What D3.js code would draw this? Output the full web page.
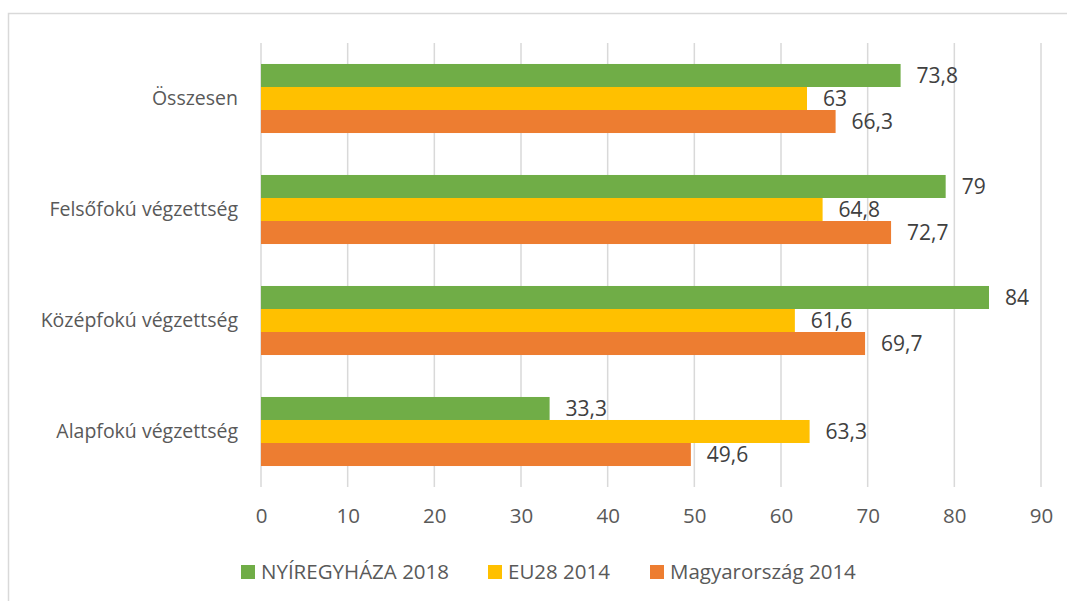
<!DOCTYPE html>
<html><head><meta charset="utf-8">
<script src="https://cdn.jsdelivr.net/npm/d3@7"></script>
<style>body{margin:0;background:#fff}svg{display:block}</style>
</head><body>
<svg id="c" width="1067" height="601"></svg>
<script>
const categories = ["Összesen","Felsőfokú végzettség","Középfokú végzettség","Alapfokú végzettség"];
const seriesNames = ["NYÍREGYHÁZA 2018","EU28 2014","Magyarország 2014"];
const nyiregyhaza = [73.8,79,84,33.3];
const eu28 = [63,64.8,61.6,63.3];
const magyarorszag = [66.3,72.7,69.7,49.6];
const ticks = [0,10,20,30,40,50,60,70,80,90];
const colors = ["#70ad47","#ffc000","#ed7d31"];
const series = [nyiregyhaza, eu28, magyarorszag];

const svg = d3.select("#c");
const font = "'Open Sans', 'Liberation Sans', sans-serif";
svg.append("rect").attr("x",8.5).attr("y",13.5).attr("width",1200).attr("height",700)
  .attr("fill","none").attr("stroke","#d9d9d9").attr("stroke-width",1.5);

const x = d3.scaleLinear().domain([0,90]).range([261,1041]);
const y = d3.scaleBand().domain(categories).range([43,487]).paddingInner(0.378).paddingOuter(0.189);
const yi = d3.scaleBand().domain(d3.range(3)).range([0,y.bandwidth()]);

svg.append("g").selectAll("line").data(ticks).join("line")
  .attr("x1",d=>x(d)).attr("x2",d=>x(d)).attr("y1",43).attr("y2",487)
  .attr("stroke","#d9d9d9").attr("stroke-width",1.5);

const xa = svg.append("g").attr("transform","translate(0,487)")
  .call(d3.axisBottom(x).tickValues(ticks).tickSize(0).tickPadding(21).tickFormat(d3.format("d")));
xa.select(".domain").remove();
xa.selectAll("text").attr("font-family",font).attr("font-size",20.5).attr("fill","#595959");

const ya = svg.append("g").attr("transform","translate(261,0)")
  .call(d3.axisLeft(y).tickSize(0).tickPadding(23));
ya.select(".domain").remove();
ya.selectAll("text").attr("font-family",font).attr("font-size",19.5).attr("fill","#595959");

const fmt = v => String(v).replace(".",",");
series.forEach((vals,si)=>{
  const g = svg.append("g");
  g.selectAll("rect").data(vals).join("rect")
    .attr("x",x(0)).attr("y",(d,i)=>y(categories[i])+yi(si))
    .attr("width",d=>x(d)-x(0)).attr("height",yi.bandwidth())
    .attr("fill",colors[si]);
  g.selectAll("text").data(vals).join("text")
    .attr("x",d=>x(d)+16).attr("y",(d,i)=>y(categories[i])+yi(si)+yi.bandwidth()/2)
    .attr("dy","0.35em").attr("font-family",font).attr("font-size",21).attr("fill","#404040")
    .text(fmt);
});

const legPos = [241,488,650];
const leg = svg.append("g");
seriesNames.forEach((n,i)=>{
  const gi = leg.append("g").attr("transform",`translate(${legPos[i]},572)`);
  gi.append("rect").attr("x",0).attr("y",-7).attr("width",14).attr("height",14).attr("fill",colors[i]);
  gi.append("text").attr("x",20).attr("dy","0.35em").attr("font-family",font)
    .attr("font-size",20.5).attr("fill","#595959").text(n);
});
</script>
</body></html>
